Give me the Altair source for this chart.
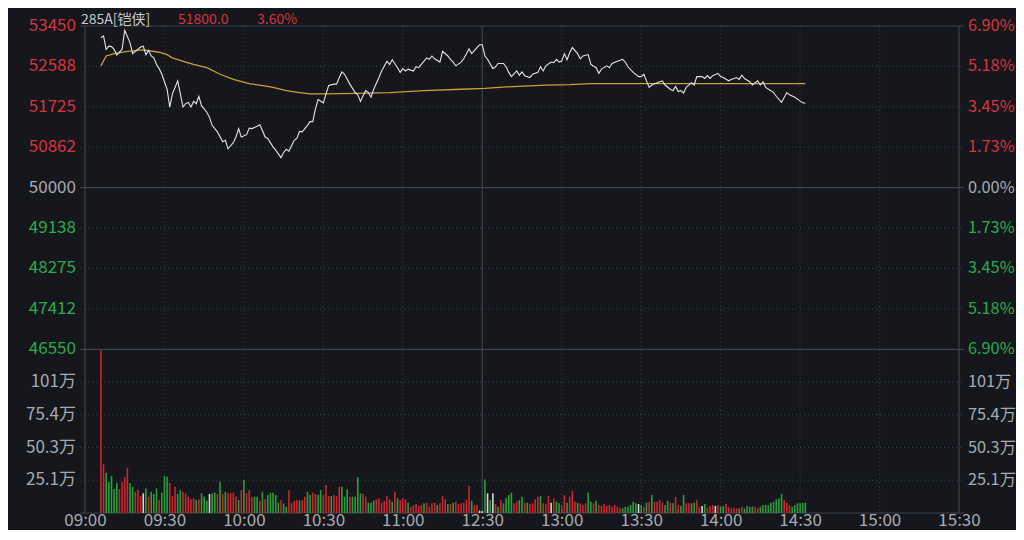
import altair as alt
import pandas as pd

# ---------------- data ----------------
time_labels = ["09:00", "09:30", "10:00", "10:30", "11:00", "12:30",
               "13:00", "13:30", "14:00", "14:30", "15:00", "15:30"]

title_code = "285A[铠侠]"
title_price = "51800.0"
title_change = "3.60%"

# trading minute (09:00 = 0, lunch break removed) and price
price_minute = [6, 7, 8, 9, 10, 11, 12, 13, 14, 15, 17, 18, 19, 21, 22, 23, 24, 25, 26, 27,
                28, 29, 31, 32, 33, 35, 36, 37, 38, 39, 40, 41, 42, 43, 44, 46, 47, 48, 50, 52,
                53, 54, 56, 57, 58, 59, 61, 62, 63, 65, 66, 67, 68, 69, 71, 72, 74, 75, 76, 77,
                79, 80, 81, 82, 84, 85, 86, 87, 88, 90, 91, 92, 94, 95, 96, 97, 98, 100, 102, 103,
                104, 105, 106, 107, 108, 109, 111, 112, 114, 115, 116, 118, 119, 120, 121, 122, 124, 125, 126, 127,
                129, 130, 131, 132, 134, 135, 137, 138, 139, 140, 142, 143, 145, 146, 148, 149, 150, 151, 152, 154,
                155, 156, 158, 159, 160, 161, 163, 164, 165, 166, 168, 169, 171, 172, 173, 174, 176, 177, 178, 179,
                180, 181, 182, 183, 184, 186, 187, 188, 190, 191, 193, 194, 195, 197, 198, 199, 201, 203, 204, 205,
                207, 209, 210, 211, 213, 214, 216, 218, 219, 221, 222, 223, 224, 225, 226, 227, 228, 229, 230, 231,
                233, 234, 235, 236, 237, 239, 240, 241, 243, 244, 246, 247, 248, 249, 251, 252, 254, 255, 256, 257,
                259, 260, 261, 263, 265, 266, 268, 269, 271, 272]
price_value = [53200, 53240, 52950, 53020, 53010, 52950, 52830, 52890, 52950, 53360, 53090, 52860, 52910, 53000, 53020, 52840, 52930, 52810, 52770, 52630,
               52540, 52420, 52100, 51720, 52000, 52280, 52000, 51720, 51790, 51820, 51720, 51840, 51790, 51950, 51750, 51610, 51500, 51330, 51190, 50980,
               51010, 50830, 50960, 51080, 51260, 51080, 51130, 51270, 51260, 51310, 51340, 51220, 51080, 51050, 50870, 50800, 50640, 50750, 50820, 50780,
               51010, 51050, 51200, 51190, 51330, 51410, 51410, 51680, 51880, 51810, 52000, 52180, 52210, 52210, 52350, 52470, 52420, 52210, 52030, 51980,
               51840, 51960, 52070, 52030, 51930, 52100, 52350, 52490, 52700, 52630, 52730, 52560, 52460, 52540, 52490, 52530, 52490, 52580, 52560, 52630,
               52770, 52740, 52810, 52750, 52680, 52910, 52810, 52740, 52680, 52600, 52680, 52750, 52960, 52860, 52990, 53050, 53050, 52810, 52740, 52540,
               52580, 52650, 52650, 52580, 52460, 52370, 52490, 52400, 52470, 52390, 52350, 52420, 52460, 52580, 52490, 52600, 52680, 52670, 52740, 52680,
               52700, 52860, 52730, 52880, 52990, 52860, 52750, 52810, 52840, 52630, 52560, 52440, 52530, 52600, 52560, 52650, 52700, 52740, 52680, 52580,
               52460, 52370, 52370, 52420, 52140, 52190, 52240, 52280, 52190, 52100, 52070, 52160, 52050, 52070, 52020, 52140, 52190, 52240, 52190, 52370,
               52370, 52330, 52390, 52330, 52390, 52440, 52370, 52350, 52280, 52310, 52350, 52310, 52400, 52330, 52260, 52190, 52280, 52190, 52260, 52140,
               52070, 52030, 51950, 51820, 52030, 51980, 51930, 51890, 51810, 51800]

# average price line
avg_minute = [6, 8, 11, 16, 22, 28, 31, 33, 38, 41, 46, 51, 56, 62, 69, 71, 76, 81, 85, 91,
              102, 115, 128, 142, 151, 159, 174, 183, 191, 210, 272]
avg_value = [52600, 52810, 52860, 52910, 52940, 52890, 52840, 52770, 52680, 52630, 52560, 52420, 52310, 52220, 52160, 52140, 52070, 52030, 52000, 52000,
             52010, 52030, 52070, 52100, 52120, 52150, 52190, 52200, 52220, 52220, 52220]

# per-minute volume (万 shares), first bar at minute 6
first_volume_minute = 6
volume_wan = [125, 37.4, 30.9, 24.0, 28.4, 18.4, 23.2, 18.4, 24.0, 27.8,
              34.7, 22.8, 20.2, 16.3, 17.6, 13.0, 15.1, 18.9, 12.5, 16.3,
              14.6, 18.9, 10.0, 15.6, 28.4, 27.8, 23.2, 13.0, 20.2, 14.6,
              17.6, 16.3, 15.1, 12.5, 10.5, 11.3, 10.0, 10.5, 15.1, 12.5,
              9.4, 14.6, 15.1, 15.6, 14.6, 24.0, 14.6, 16.3, 15.1, 15.6,
              15.6, 12.5, 10.0, 17.6, 25.3, 15.1, 17.6, 12.0, 12.5, 12.5,
              9.4, 16.3, 10.5, 13.8, 15.6, 15.6, 13.8, 7.9, 10.0, 7.4,
              4.8, 17.6, 7.9, 9.4, 10.0, 9.4, 10.0, 12.5, 16.3, 13.8,
              15.6, 14.6, 13.8, 17.6, 13.8, 21.5, 13.0, 13.0, 13.8, 13.0,
              20.2, 20.2, 12.5, 18.2, 12.5, 12.5, 12.5, 27.4, 15.1, 14.6,
              12.5, 7.9, 7.9, 9.4, 10.5, 11.3, 7.9, 9.4, 13.0, 10.5,
              8.7, 16.3, 11.3, 10.0, 11.3, 10.5, 7.9, 4.8, 6.1, 6.9, 5.4,
              6.1, 7.4, 7.9, 4.8, 7.4, 7.9, 6.1, 7.4, 13.0, 10.5,
              6.9, 6.9, 7.9, 8.7, 6.9, 7.4, 7.9, 10.0, 20.7, 9.4,
              6.1, 6.1, 1.8, 1.5, 25.8, 15.1, 10.0, 15.1, 6.9, 4.8,
              10.0, 7.4, 11.3, 13.8, 15.6, 7.4, 8.7, 10.0, 12.5, 7.9,
              7.9, 6.9, 7.4, 10.5, 12.5, 13.0, 7.4, 6.9, 13.0, 7.9,
              11.3, 8.7, 7.4, 6.1, 13.8, 7.9, 12.5, 17.1, 8.7, 7.9,
              7.4, 6.1, 7.4, 15.6, 8.7, 7.4, 9.4, 6.1, 5.4, 6.9,
              5.4, 6.1, 4.8, 6.1, 4.8, 3.6, 3.6, 4.8, 4.8, 6.1,
              8.7, 7.4, 6.9, 6.1, 4.8, 7.9, 8.7, 13.8, 8.7, 8.7,
              10.0, 7.9, 6.1, 9.4, 7.9, 7.4, 12.5, 6.1, 5.4, 13.8,
              7.4, 7.4, 7.4, 7.9, 10.0, 4.8, 5.4, 6.9, 4.1, 5.4,
              6.1, 5.4, 6.1, 4.8, 5.4, 6.9, 4.8, 3.6, 4.1, 3.6,
              3.6, 4.8, 3.6, 5.4, 4.8, 4.8, 4.8, 3.6, 4.8, 6.1,
              6.1, 6.1, 7.9, 8.7, 10.5, 11.3, 14.6, 10.0, 7.9, 6.1,
              4.8, 6.1, 7.4, 7.4, 7.9, 7.9]
# R = up (red), G = down (green), W = unchanged (white)
volume_dir = ("RRGGGGGRRR" "RGGRRRWGRG" "GGRGGGRRRG" "GRRRRRGRGG" "GWGGRGRGRR"
              "RRGRGRRRGG" "RGRGGGGGRG" "GRRRRGRRGG" "RRGGRRRGRR" "RGGGRGGGGR"
              "RGGGRRRRRR" "GRGRRRGRRRR"
              "RGRRRRGRRR" "GRGRRRRRRG" "RRWWGWGWRG" "RGGGGRRGGR" "GRRRRGRRRW"
              "RGGRRGRRRG" "RRRGGRGRRR" "RRRRRRGGGG" "GGWGRGRGRR" "RRGGRGRRGG"
              "RRGGRRWGRR" "RWRGGRRRRR" "GRGGGGRRGG" "GGGGGGGRRR" "GGGGGG")

price_ticks = [53450, 52588, 51725, 50862, 50000, 49138, 48275, 47412, 46550]
pct_labels = ["6.90%", "5.18%", "3.45%", "1.73%", "0.00%", "1.73%", "3.45%", "5.18%", "6.90%"]
vol_ticks = [25.14, 50.28, 75.42, 100.56]
vol_labels = ["25.1万", "50.3万", "75.4万", "101万"]
prev_close = 50000

# ---------------- style ----------------
FONT = "Noto Sans CJK SC"
BG = "#15171c"
GRID = "#3d4047"
BORDER = "#3f424a"
LABEL = "#a7abb1"
RED_T = "#d9333e"
GREEN_T = "#29ab4d"
BAR_COLORS = {"R": "#c9272e", "G": "#2b9e3b", "W": "#d6d6d6"}
W, H = 884, 487
PH = 323.3
FS = 17
FS_R = 16.3
FS_T = 14

xs = alt.Scale(domain=[0, 330], nice=False, zero=False)
ps = alt.Scale(domain=[price_ticks[-1], price_ticks[0]], range=[PH, 0], nice=False, zero=False)
vs = alt.Scale(domain=[0, 125.7], range=[H, PH], nice=False, zero=True)

label_expr = "[" + ",".join("'%s'" % t for t in time_labels) + "][round(datum.value / 30)]"
xaxis = alt.Axis(values=list(range(0, 331, 30)), labelExpr=label_expr, grid=False, ticks=False,
                 tickSize=0, domain=False, labelFontSize=FS, labelColor=LABEL, labelFont=FONT,
                 labelPadding=12, labelBaseline="alphabetic", labelFlush=False,
                 labelOverlap=False, title=None)
X = alt.X("m:Q", scale=xs, axis=xaxis)

# ---------------- tables ----------------
price_df = pd.DataFrame({"m": price_minute, "p": price_value})
avg_df = pd.DataFrame({"m": avg_minute, "p": avg_value})
vol_df = pd.DataFrame({
    "m": list(range(first_volume_minute, first_volume_minute + len(volume_wan))),
    "v": volume_wan,
    "c": [BAR_COLORS[d] for d in volume_dir[:len(volume_wan)]],
})

session_solid = pd.DataFrame({"m": [0, 150, 330]})
session_dotted = pd.DataFrame({"m": [30, 60, 90, 120, 180, 210, 240, 270, 300]})

solid_prices = [price_ticks[0], prev_close, price_ticks[-1]]
ph_solid = pd.DataFrame({"t": solid_prices})
ph_dotted = pd.DataFrame({"t": [t for t in price_ticks if t not in solid_prices]})
vh_dotted = pd.DataFrame({"t": vol_ticks})
vh_solid = pd.DataFrame({"t": [0]})


def tick_color(t):
    if t > prev_close:
        return RED_T
    if t < prev_close:
        return GREEN_T
    return LABEL


price_lbl_df = pd.DataFrame({
    "t": price_ticks,
    "lbl": [str(t) for t in price_ticks],
    "pct": pct_labels,
    "c": [tick_color(t) for t in price_ticks],
})
vol_lbl_df = pd.DataFrame({"t": vol_ticks, "lbl": vol_labels})

# ---------------- layers ----------------
vgrid_d = alt.Chart(session_dotted).mark_rule(color=GRID, strokeDash=[1, 3], strokeWidth=1).encode(
    x=X, y=alt.value(0), y2=alt.value(H))
vgrid_s = alt.Chart(session_solid).mark_rule(color=BORDER, strokeWidth=1.2).encode(
    x=X, y=alt.value(0), y2=alt.value(H))

pgrid_d = alt.Chart(ph_dotted).mark_rule(color=GRID, strokeDash=[1, 3], strokeWidth=1).encode(
    y=alt.Y("t:Q", scale=ps, axis=None), x=alt.value(0), x2=alt.value(W))
pgrid_s = alt.Chart(ph_solid).mark_rule(color=BORDER, strokeWidth=1.2).encode(
    y=alt.Y("t:Q", scale=ps, axis=None), x=alt.value(0), x2=alt.value(W))
vgrid2_d = alt.Chart(vh_dotted).mark_rule(color=GRID, strokeDash=[1, 3], strokeWidth=1).encode(
    y=alt.Y("t:Q", scale=vs, axis=None), x=alt.value(0), x2=alt.value(W))
vgrid2_s = alt.Chart(vh_solid).mark_rule(color=BORDER, strokeWidth=1.2).encode(
    y=alt.Y("t:Q", scale=vs, axis=None), x=alt.value(0), x2=alt.value(W))

bars = alt.Chart(vol_df).mark_bar(size=1.6).encode(
    x=X, y=alt.Y("v:Q", scale=vs, axis=None), color=alt.Color("c:N", scale=None))

avg_line = alt.Chart(avg_df).mark_line(color="#c9a03a", strokeWidth=1.3).encode(
    x=X, y=alt.Y("p:Q", scale=ps, axis=None))
price_line = alt.Chart(price_df).mark_line(color="#e4e4e4", strokeWidth=1.1).encode(
    x=X, y=alt.Y("p:Q", scale=ps, axis=None))

left_p = alt.Chart(price_lbl_df).mark_text(align="right", baseline="middle", fontSize=FS, font=FONT).encode(
    x=alt.value(-4), y=alt.Y("t:Q", scale=ps, axis=None), text="lbl:N", color=alt.Color("c:N", scale=None))
right_p = alt.Chart(price_lbl_df).mark_text(align="left", baseline="middle", fontSize=FS_R, font=FONT).encode(
    x=alt.value(W + 4), y=alt.Y("t:Q", scale=ps, axis=None), text="pct:N", color=alt.Color("c:N", scale=None))
left_v = alt.Chart(vol_lbl_df).mark_text(align="right", baseline="middle", fontSize=FS, font=FONT, color=LABEL).encode(
    x=alt.value(-4), y=alt.Y("t:Q", scale=vs, axis=None), text="lbl:N")
right_v = alt.Chart(vol_lbl_df).mark_text(align="left", baseline="middle", fontSize=FS_R, font=FONT, color=LABEL).encode(
    x=alt.value(W + 4), y=alt.Y("t:Q", scale=vs, axis=None), text="lbl:N")

t1 = alt.Chart(pd.DataFrame({"s": [title_code]})).mark_text(
    align="left", baseline="middle", fontSize=FS_T, font=FONT, color="#c6c9ce").encode(
    x=alt.value(1), y=alt.value(-6.5), text="s:N")
t2 = alt.Chart(pd.DataFrame({"s": [title_price]})).mark_text(
    align="left", baseline="middle", fontSize=FS_T, font=FONT, color=RED_T).encode(
    x=alt.value(98), y=alt.value(-6.5), text="s:N")
t3 = alt.Chart(pd.DataFrame({"s": [title_change]})).mark_text(
    align="left", baseline="middle", fontSize=FS_T, font=FONT, color=RED_T).encode(
    x=alt.value(177), y=alt.value(-6.5), text="s:N")

chart = alt.layer(
    vgrid_d, vgrid_s, pgrid_d, pgrid_s, vgrid2_d, vgrid2_s,
    bars, avg_line, price_line,
    left_p, right_p, left_v, right_v, t1, t2, t3,
).resolve_scale(y="independent").properties(
    width=W, height=H,
    autosize=alt.AutoSizeParams(type="none"),
    padding={"left": 72, "top": 18, "right": 52, "bottom": 17},
).configure(background=BG, font=FONT).configure_view(strokeWidth=0)

chart.save("out.html", embed_options={"renderer": "svg", "actions": False})
